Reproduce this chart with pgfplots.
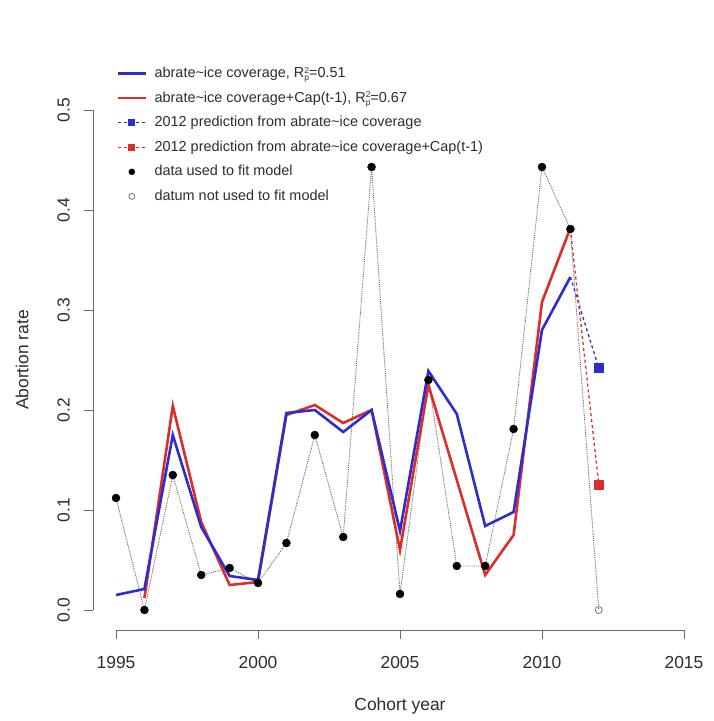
\documentclass[border=0pt]{standalone}
\usepackage{pgfplots}
\pgfplotsset{compat=1.18}
\usepackage{fontspec}
\setmainfont{Liberation Sans}
\definecolor{rblue}{RGB}{45,45,205}
\definecolor{rred}{RGB}{220,45,45}
\definecolor{axgray}{RGB}{105,105,105}
\definecolor{txt}{RGB}{45,45,45}
\pgfplotsset{markonly legend/.style={legend image code/.code={\draw[##1] plot coordinates {(14bp,0bp)};}}}
\newcommand{\Rp}{R\raisebox{-3.2bp}{\fontsize{8.5}{8}\selectfont\shortstack[l]{2\\p}}}
\begin{document}
\begin{tikzpicture}
\path (-93.3bp,-91bp) rectangle (620.7bp,630bp);
\begin{axis}[
  scale only axis, width=613.4bp, height=540bp,
  at={(0,0)}, anchor=south west,
  xmin=1994.2, xmax=2015.8, ymin=-0.02, ymax=0.52,
  clip=false,
  axis x line*=bottom, axis y line*=left,
  axis line style={draw=none},
  tick align=outside, major tick length=9bp,
  tick style={axgray, line width=0.9bp},
  xtick={1995,2000,2005,2010,2015},
  xticklabels={1995,2000,2005,2010,2015},
  ytick={0,0.1,0.2,0.3,0.4,0.5},
  yticklabels={0.0,0.1,0.2,0.3,0.4,0.5},
  tick label style={font=\fontsize{17.5}{20}\selectfont, text=txt},
  xticklabel style={yshift=-14bp},
  yticklabel style={xshift=-11bp, rotate=90, anchor=south},
  xlabel={Cohort year}, ylabel={Abortion rate},
  label style={font=\fontsize{17.5}{20}\selectfont, text=txt},
  xlabel style={at={(axis description cs:0.5,-0.1407)}, anchor=center},
  ylabel style={at={(axis description cs:-0.1162,0.5)}, anchor=center},
  legend image code/.code={\draw[mark repeat=2,mark phase=2,#1] plot coordinates {(0bp,0bp) (14bp,0bp) (28bp,0bp)};},
  legend cell align=left,
  legend style={draw=none, fill=none, inner sep=0pt,
    at={(axis description cs:0.0375,1.044)}, anchor=north west,
    font=\fontsize{14.5}{16}\selectfont, text=txt,
    row sep=10.6bp, column sep=5.5bp,
    nodes={text height=11bp, text depth=3bp, inner ysep=0pt}},
]
\draw[axgray, line width=0.9bp] (axis cs:1995,-0.02) -- (axis cs:2015,-0.02);
\draw[axgray, line width=0.9bp] (axis cs:1994.2,0) -- (axis cs:1994.2,0.5);

\addplot[forget plot, black!60, densely dotted, line width=0.9bp] coordinates {
(1995,0.112)(1996,0.000)(1997,0.135)(1998,0.035)(1999,0.042)(2000,0.027)
(2001,0.067)(2002,0.175)(2003,0.073)(2004,0.443)(2005,0.016)(2006,0.230)
(2007,0.044)(2008,0.044)(2009,0.181)(2010,0.443)(2011,0.381)(2012,0.000)};

\addplot[forget plot, rred, line width=2.6bp] coordinates {
(1996,0.012)(1997,0.204)(1998,0.088)(1999,0.025)(2000,0.028)(2001,0.195)
(2002,0.205)(2003,0.187)(2004,0.200)(2005,0.060)(2006,0.225)(2007,0.130)
(2008,0.035)(2009,0.075)(2010,0.308)(2011,0.382)};

\addplot[forget plot, rblue, line width=2.6bp] coordinates {
(1995,0.015)(1996,0.021)(1997,0.175)(1998,0.083)(1999,0.034)(2000,0.030)
(2001,0.197)(2002,0.200)(2003,0.178)(2004,0.200)(2005,0.079)(2006,0.239)
(2007,0.196)(2008,0.084)(2009,0.098)(2010,0.280)(2011,0.333)};

\addplot[forget plot, rblue, dashed, line width=1.3bp] coordinates {(2011,0.333)(2012,0.242)};
\addplot[forget plot, rred, dashed, line width=1.3bp] coordinates {(2011,0.381)(2012,0.125)};
\addplot[forget plot, only marks, mark=square*, rblue, mark size=4.5bp] coordinates {(2012,0.242)};
\addplot[forget plot, only marks, mark=square*, rred, mark size=4.5bp] coordinates {(2012,0.125)};

\addplot[forget plot, only marks, mark=*, black, mark size=4bp] coordinates {
(1995,0.112)(1996,0.000)(1997,0.135)(1998,0.035)(1999,0.042)(2000,0.027)
(2001,0.067)(2002,0.175)(2003,0.073)(2004,0.443)(2005,0.016)(2006,0.230)
(2007,0.044)(2008,0.044)(2009,0.181)(2010,0.443)(2011,0.381)};
\addplot[forget plot, only marks, mark=o, black!55, mark size=3.5bp, line width=0.8bp] coordinates {(2012,0.000)};

\addlegendimage{rblue, line width=2.6bp}
\addlegendentry{abrate\textasciitilde ice coverage, \Rp=0.51}
\addlegendimage{rred, line width=2.6bp}
\addlegendentry{abrate\textasciitilde ice coverage+Cap(t-1), \Rp=0.67}
\addlegendimage{rblue, dashed, line width=1.3bp, mark=square*, mark size=2.8bp, mark options={solid}}
\addlegendentry{2012 prediction from abrate\textasciitilde ice coverage}
\addlegendimage{rred, dashed, line width=1.3bp, mark=square*, mark size=2.8bp, mark options={solid}}
\addlegendentry{2012 prediction from abrate\textasciitilde ice coverage+Cap(t-1)}
\addlegendimage{markonly legend, black, mark=*, mark size=3bp}
\addlegendentry{data used to fit model}
\addlegendimage{markonly legend, black!55, mark=o, mark size=3bp, line width=0.8bp}
\addlegendentry{datum not used to fit model}
\end{axis}
\end{tikzpicture}
\end{document}
